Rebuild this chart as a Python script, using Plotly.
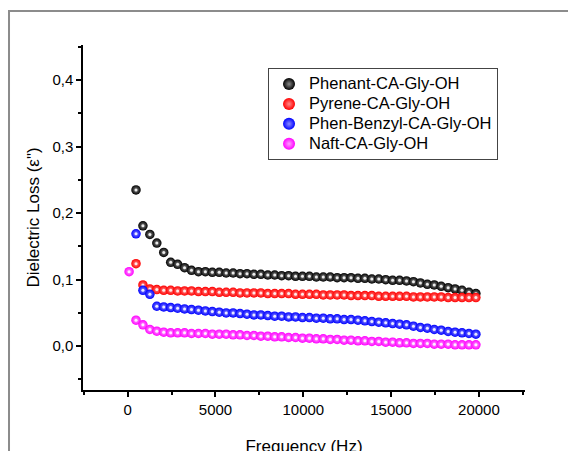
import plotly.graph_objects as go

# Frequencies (Hz)
freq = [473, 868, 1263, 1658, 2053, 2448, 2843, 3238, 3633, 4028,
        4423, 4818, 5213, 5608, 6003, 6398, 6793, 7188, 7583, 7978,
        8373, 8768, 9163, 9558, 9953, 10348, 10743, 11138, 11533, 11928,
        12323, 12718, 13113, 13508, 13903, 14298, 14693, 15088, 15483, 15878,
        16273, 16668, 17063, 17458, 17853, 18248, 18643, 19038, 19433, 19828]
freq_naft = [80] + freq

phenant = [0.235, 0.181, 0.168, 0.155, 0.141, 0.126, 0.123, 0.118, 0.114, 0.112,
           0.112, 0.111, 0.111, 0.110, 0.110, 0.109, 0.109, 0.108, 0.108, 0.107,
           0.107, 0.106, 0.106, 0.105, 0.105, 0.105, 0.104, 0.104, 0.104, 0.103,
           0.103, 0.103, 0.102, 0.102, 0.101, 0.101, 0.100, 0.099, 0.099, 0.098,
           0.097, 0.095, 0.093, 0.092, 0.090, 0.088, 0.086, 0.084, 0.081, 0.079]
pyrene = [0.124, 0.092, 0.086, 0.085, 0.084, 0.084, 0.083, 0.083, 0.083, 0.082,
          0.082, 0.082, 0.081, 0.081, 0.081, 0.080, 0.080, 0.080, 0.080, 0.079,
          0.079, 0.079, 0.079, 0.078, 0.078, 0.078, 0.078, 0.077, 0.077, 0.077,
          0.077, 0.076, 0.076, 0.076, 0.076, 0.075, 0.075, 0.075, 0.075, 0.075,
          0.074, 0.074, 0.074, 0.074, 0.074, 0.073, 0.073, 0.073, 0.073, 0.073]
phen_benzyl = [0.169, 0.084, 0.078, 0.060, 0.059, 0.058, 0.057, 0.056, 0.055, 0.054,
               0.053, 0.052, 0.051, 0.050, 0.050, 0.049, 0.048, 0.047, 0.047, 0.046,
               0.045, 0.045, 0.044, 0.044, 0.043, 0.043, 0.042, 0.042, 0.041, 0.041,
               0.040, 0.040, 0.039, 0.038, 0.037, 0.036, 0.035, 0.034, 0.033, 0.032,
               0.030, 0.028, 0.027, 0.025, 0.024, 0.022, 0.021, 0.020, 0.019, 0.018]
naft = [0.112, 0.039, 0.032, 0.025, 0.0225, 0.021, 0.020, 0.020, 0.020, 0.019, 0.019,
        0.019, 0.018, 0.018, 0.018, 0.017, 0.017, 0.016, 0.016, 0.015, 0.015,
        0.014, 0.014, 0.013, 0.013, 0.012, 0.012, 0.011, 0.011, 0.010, 0.010,
        0.009, 0.009, 0.008, 0.008, 0.007, 0.007, 0.006, 0.006, 0.005, 0.005,
        0.004, 0.004, 0.004, 0.003, 0.003, 0.003, 0.002, 0.002, 0.002, 0.002]

names = ["Phenant-CA-Gly-OH", "Pyrene-CA-Gly-OH", "Phen-Benzyl-CA-Gly-OH", "Naft-CA-Gly-OH"]
colors = ["#000000", "#ff0000", "#0000ff", "#ff00ff"]
glows = ["#8a8a8a", "#ff8a8a", "#8a8aff", "#ffa0ff"]

x_ticks = [0, 5000, 10000, 15000, 20000]
y_ticks = [0.0, 0.1, 0.2, 0.3, 0.4]

FONT = "Arial, Liberation Sans, sans-serif"

fig = go.Figure()
series = [(freq, phenant), (freq, pyrene), (freq, phen_benzyl), (freq_naft, naft)]
for (xs, ys), name, col, glow in zip(series, names, colors, glows):
    label = '<span style="font-size:16.5px">' + name + '</span>'
    fig.add_trace(go.Scatter(
        x=xs, y=ys, mode="markers", name=label, legendgroup=name,
        marker=dict(size=9.5, color=col,
                    gradient=dict(type="radial", color=glow),
                    line=dict(width=0)),
    ))
    fig.add_trace(go.Scatter(
        x=xs, y=ys, mode="markers", name=name, legendgroup=name, showlegend=False,
        hoverinfo="skip",
        marker=dict(size=3, color="rgba(255,255,255,0.85)", line=dict(width=0)),
    ))

axis_common = dict(showline=True, linecolor="black", linewidth=1.5,
                   ticks="outside", ticklen=5, tickwidth=1.5, tickcolor="black",
                   showgrid=False, zeroline=False, mirror=False, automargin=False,
                   tickfont=dict(family=FONT, size=15, color="black"))

fig.update_layout(
    width=576, height=451,
    margin=dict(l=75, r=59, t=37, b=69),
    paper_bgcolor="white", plot_bgcolor="white",
    separators=",.",
    font=dict(family=FONT, color="black"),
    xaxis=dict(range=[-2545, 22625], tickvals=x_ticks, tickformat="d",
               minor=dict(ticks="outside", ticklen=3, tickwidth=1.5, dtick=2500, tick0=0, tickcolor="black"),
               title=dict(text="Frequency (Hz)", font=dict(family=FONT, size=17), standoff=23),
               **axis_common),
    yaxis=dict(range=[-0.066, 0.453], tickvals=y_ticks, tickformat=".1f",
               minor=dict(ticks="outside", ticklen=3, tickwidth=1.5, dtick=0.05, tick0=0, tickcolor="black"),
               title=dict(text="Dielectric Loss (ε\")", font=dict(family=FONT, size=17), standoff=8),
               **axis_common),
    legend=dict(x=0.4186, y=0.933, xanchor="left", yanchor="top",
                bordercolor="#444444", borderwidth=1, bgcolor="white",
                font=dict(family=FONT, size=13, color="black"),
                tracegroupgap=0, itemsizing="constant"),
    showlegend=True,
)

# outer grey frame (cropped screenshot border)
fig.add_shape(type="rect", xref="paper", yref="paper",
              x0=-0.1674, x1=1.3, y0=-0.4, y1=1.0986,
              line=dict(color="#8c8c8c", width=2), layer="below")

fig.write_html("out.html")
